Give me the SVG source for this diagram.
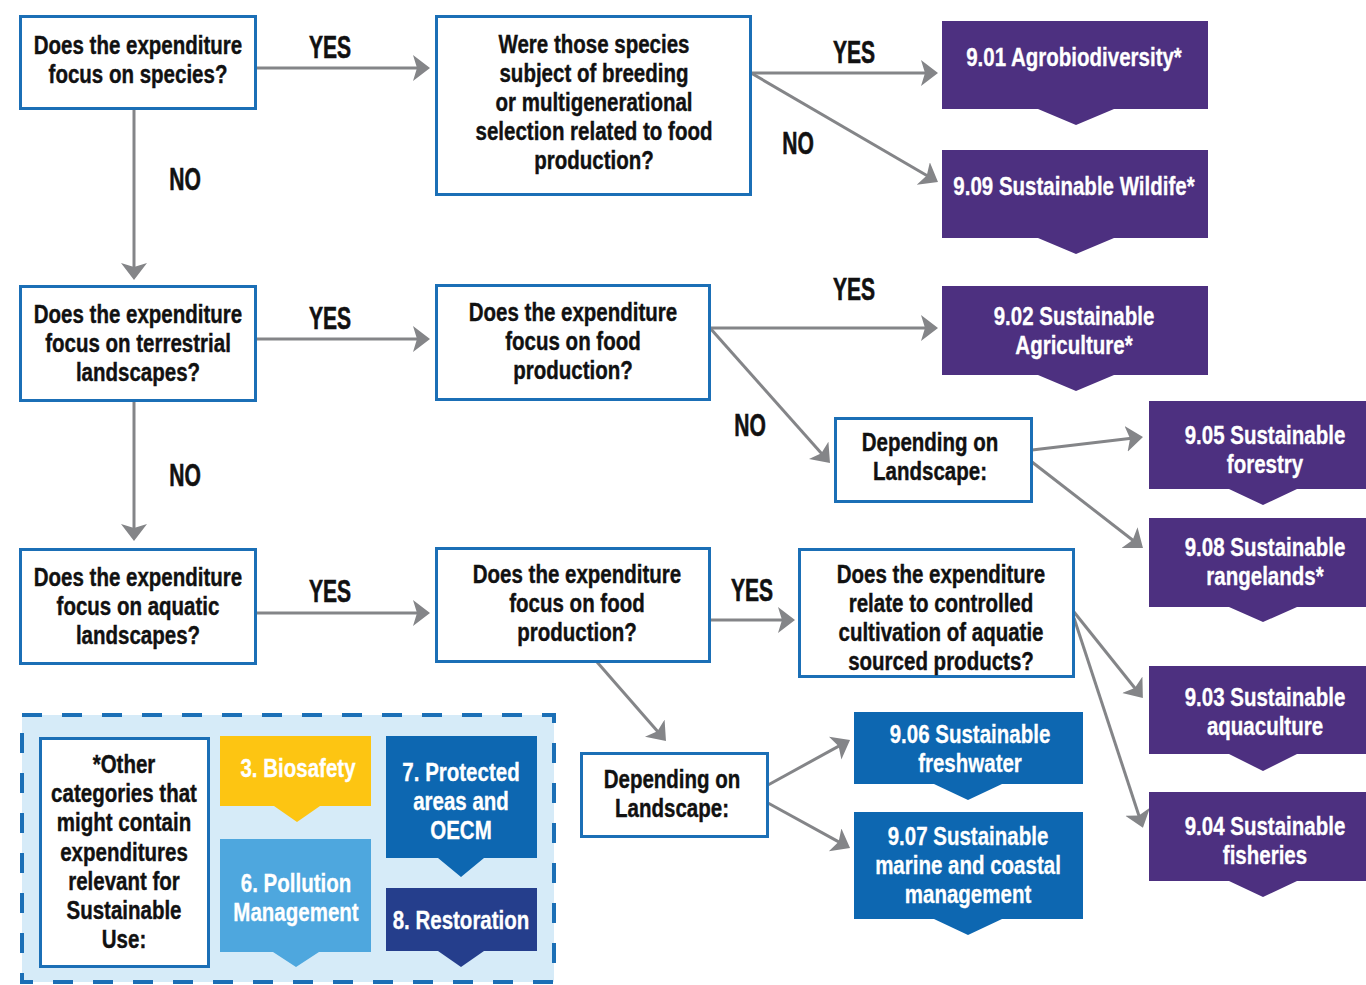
<svg xmlns="http://www.w3.org/2000/svg" width="1366" height="985" viewBox="0 0 1366 985">
<style>
text{font-family:"Liberation Sans",Arial,sans-serif;font-weight:bold;font-size:25px;text-anchor:middle}
.q{fill:#fff;stroke:#1b6fb6;stroke-width:3}
.qt{fill:#111;stroke:#111;stroke-width:0.4}
.lbl{font-size:31px;fill:#111;stroke:#111;stroke-width:0.6}
.wt{fill:#fff;stroke:#fff;stroke-width:0.3}
.pur{fill:#4d3080}
.blu{fill:#0d67b1}
.con line{stroke:#848588;stroke-width:3;marker-end:url(#ah)}
</style>
<defs>
<marker id="ah" markerUnits="userSpaceOnUse" markerWidth="20" markerHeight="28" refX="14" refY="13" orient="auto">
<path d="M0,0 L17,13 L0,26 L4,13 z" fill="#848588"/>
</marker>
</defs>
<rect width="1366" height="985" fill="#fff"/>

<g id="connectors" class="con">
<line x1="256" y1="68" x2="427" y2="68"/>
<line x1="134" y1="109" x2="134" y2="277"/>
<line x1="751" y1="73" x2="935" y2="73"/>
<line x1="751" y1="73" x2="935.4" y2="180.5"/>
<line x1="256" y1="339" x2="427" y2="339"/>
<line x1="134" y1="401" x2="134" y2="538"/>
<line x1="710" y1="328" x2="935" y2="328"/>
<line x1="710" y1="328" x2="828" y2="460.8"/>
<line x1="1032" y1="450" x2="1140" y2="437.3"/>
<line x1="1032" y1="462" x2="1140.6" y2="546.2"/>
<line x1="256" y1="613" x2="427" y2="613"/>
<line x1="710" y1="620" x2="792" y2="620"/>
<line x1="597" y1="662" x2="664" y2="738.7"/>
<line x1="1074" y1="612" x2="1141" y2="695.7"/>
<line x1="1074" y1="618" x2="1142" y2="825"/>
<line x1="768" y1="785" x2="847.4" y2="741.4"/>
<line x1="768" y1="803" x2="847.4" y2="846.6"/>
</g>

<g id="edge-labels">
<text class="lbl" transform="translate(330,58) scale(0.68,1)">YES</text>
<text class="lbl" transform="translate(185,190) scale(0.68,1)">NO</text>
<text class="lbl" transform="translate(854,63) scale(0.68,1)">YES</text>
<text class="lbl" transform="translate(798,154) scale(0.68,1)">NO</text>
<text class="lbl" transform="translate(330,329) scale(0.68,1)">YES</text>
<text class="lbl" transform="translate(185,486) scale(0.68,1)">NO</text>
<text class="lbl" transform="translate(854,300) scale(0.68,1)">YES</text>
<text class="lbl" transform="translate(750,436) scale(0.68,1)">NO</text>
<text class="lbl" transform="translate(330,602) scale(0.68,1)">YES</text>
<text class="lbl" transform="translate(752,601) scale(0.68,1)">YES</text>
</g>

<g id="q-species">
<rect class="q" x="20.5" y="16.5" width="235" height="92"/>
<text class="qt" transform="translate(138,54) scale(0.82,1)"><tspan x="0" y="0">Does the expenditure</tspan><tspan x="0" y="29">focus on species?</tspan></text>
</g>
<g id="q-breeding">
<rect class="q" x="436.5" y="16.5" width="314" height="178"/>
<text class="qt" transform="translate(594,53) scale(0.82,1)"><tspan x="0" y="0">Were those species</tspan><tspan x="0" y="29">subject of breeding</tspan><tspan x="0" y="58">or multigenerational</tspan><tspan x="0" y="87">selection related to food</tspan><tspan x="0" y="116">production?</tspan></text>
</g>
<g id="q-terrestrial">
<rect class="q" x="20.5" y="286.5" width="235" height="114"/>
<text class="qt" transform="translate(138,323) scale(0.82,1)"><tspan x="0" y="0">Does the expenditure</tspan><tspan x="0" y="29">focus on terrestrial</tspan><tspan x="0" y="58">landscapes?</tspan></text>
</g>
<g id="q-food-terrestrial">
<rect class="q" x="436.5" y="285.5" width="273" height="114"/>
<text class="qt" transform="translate(573,321) scale(0.82,1)"><tspan x="0" y="0">Does the expenditure</tspan><tspan x="0" y="29">focus on food</tspan><tspan x="0" y="58">production?</tspan></text>
</g>
<g id="landscape-terrestrial">
<rect class="q" x="835.5" y="418.5" width="196" height="83"/>
<text class="qt" transform="translate(930,451) scale(0.82,1)"><tspan x="0" y="0">Depending on</tspan><tspan x="0" y="29">Landscape:</tspan></text>
</g>
<g id="q-aquatic">
<rect class="q" x="20.5" y="549.5" width="235" height="114"/>
<text class="qt" transform="translate(138,586) scale(0.82,1)"><tspan x="0" y="0">Does the expenditure</tspan><tspan x="0" y="29">focus on aquatic</tspan><tspan x="0" y="58">landscapes?</tspan></text>
</g>
<g id="q-food-aquatic">
<rect class="q" x="436.5" y="548.5" width="273" height="113"/>
<text class="qt" transform="translate(577,583) scale(0.82,1)"><tspan x="0" y="0">Does the expenditure</tspan><tspan x="0" y="29">focus on food</tspan><tspan x="0" y="58">production?</tspan></text>
</g>
<g id="q-cultivation">
<rect class="q" x="799.5" y="549.5" width="274" height="127"/>
<text class="qt" transform="translate(941,583) scale(0.82,1)"><tspan x="0" y="0">Does the expenditure</tspan><tspan x="0" y="29">relate to controlled</tspan><tspan x="0" y="58">cultivation of aquatie</tspan><tspan x="0" y="87">sourced products?</tspan></text>
</g>
<g id="landscape-aquatic">
<rect class="q" x="581.5" y="753.5" width="186" height="83"/>
<text class="qt" transform="translate(672,788) scale(0.82,1)"><tspan x="0" y="0">Depending on</tspan><tspan x="0" y="29">Landscape:</tspan></text>
</g>

<g id="c-901">
<path class="pur" d="M942,21 H1208 V109 H1114 L1076,125 L1038,109 H942 z"/>
<text class="wt" transform="translate(1074,66) scale(0.82,1)">9.01 Agrobiodiversity*</text>
</g>
<g id="c-909">
<path class="pur" d="M942,150 H1208 V238 H1114 L1076,254 L1038,238 H942 z"/>
<text class="wt" transform="translate(1074,195) scale(0.82,1)">9.09 Sustainable Wildife*</text>
</g>
<g id="c-902">
<path class="pur" d="M942,286 H1208 V375 H1114 L1076,391 L1038,375 H942 z"/>
<text class="wt" transform="translate(1074,325) scale(0.82,1)"><tspan x="0" y="0">9.02 Sustainable</tspan><tspan x="0" y="29">Agriculture*</tspan></text>
</g>
<g id="c-905">
<path class="pur" d="M1149,401 H1377 V489 H1297 L1263,505 L1229,489 H1149 z"/>
<text class="wt" transform="translate(1265,444) scale(0.82,1)"><tspan x="0" y="0">9.05 Sustainable</tspan><tspan x="0" y="29">forestry</tspan></text>
</g>
<g id="c-908">
<path class="pur" d="M1149,518 H1377 V607 H1297 L1263,622 L1229,607 H1149 z"/>
<text class="wt" transform="translate(1265,556) scale(0.82,1)"><tspan x="0" y="0">9.08 Sustainable</tspan><tspan x="0" y="29">rangelands*</tspan></text>
</g>
<g id="c-903">
<path class="pur" d="M1149,666 H1377 V754 H1297 L1263,771 L1229,754 H1149 z"/>
<text class="wt" transform="translate(1265,706) scale(0.82,1)"><tspan x="0" y="0">9.03 Sustainable</tspan><tspan x="0" y="29">aquaculture</tspan></text>
</g>
<g id="c-904">
<path class="pur" d="M1149,792 H1377 V881 H1297 L1263,897 L1229,881 H1149 z"/>
<text class="wt" transform="translate(1265,835) scale(0.82,1)"><tspan x="0" y="0">9.04 Sustainable</tspan><tspan x="0" y="29">fisheries</tspan></text>
</g>
<g id="c-906">
<path class="blu" d="M854,712 H1083 V784 H1002 L968,800 L934,784 H854 z"/>
<text class="wt" transform="translate(970,743) scale(0.82,1)"><tspan x="0" y="0">9.06 Sustainable</tspan><tspan x="0" y="29">freshwater</tspan></text>
</g>
<g id="c-907">
<path class="blu" d="M854,812 H1083 V919 H1002 L968,935 L934,919 H854 z"/>
<text class="wt" transform="translate(968,845) scale(0.82,1)"><tspan x="0" y="0">9.07 Sustainable</tspan><tspan x="0" y="29">marine and coastal</tspan><tspan x="0" y="58">management</tspan></text>
</g>

<g id="legend">
<rect x="22" y="715" width="532" height="267" fill="#d6ebf8" stroke="#1b6fb6" stroke-width="4" stroke-dasharray="20,20"/>
<g id="legend-note">
<rect class="q" x="40.5" y="738.5" width="168" height="228"/>
<text class="qt" transform="translate(124,773) scale(0.82,1)"><tspan x="0" y="0">*Other</tspan><tspan x="0" y="29.2">categories that</tspan><tspan x="0" y="58.4">might contain</tspan><tspan x="0" y="87.6">expenditures</tspan><tspan x="0" y="116.8">relevant for</tspan><tspan x="0" y="146">Sustainable</tspan><tspan x="0" y="175.2">Use:</tspan></text>
</g>
<g id="c-3">
<path fill="#fdc512" d="M220,736 H371 V806 H320 L297,822 L274,806 H220 z"/>
<text class="wt" transform="translate(298,777) scale(0.82,1)">3. Biosafety</text>
</g>
<g id="c-6">
<path fill="#4ea7de" d="M220,839 H371 V952 H319 L296,967 L273,952 H220 z"/>
<text class="wt" transform="translate(296,892) scale(0.82,1)"><tspan x="0" y="0">6. Pollution</tspan><tspan x="0" y="29">Management</tspan></text>
</g>
<g id="c-7">
<path fill="#0d67b1" d="M386,736 H537 V858 H484 L461,877 L438,858 H386 z"/>
<text class="wt" transform="translate(461,781) scale(0.82,1)"><tspan x="0" y="0">7. Protected</tspan><tspan x="0" y="29">areas and</tspan><tspan x="0" y="58">OECM</tspan></text>
</g>
<g id="c-8">
<path fill="#253e8c" d="M386,888 H537 V951 H484 L461,967 L438,951 H386 z"/>
<text class="wt" transform="translate(461,929) scale(0.82,1)">8. Restoration</text>
</g>
</g>
</svg>
